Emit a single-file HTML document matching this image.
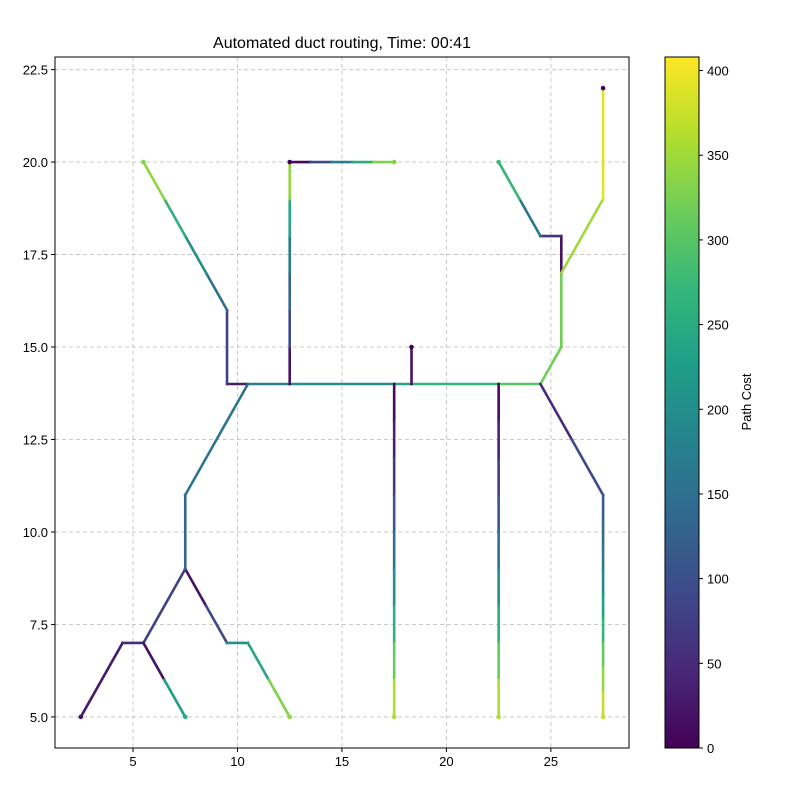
<!DOCTYPE html>
<html><head><meta charset="utf-8"><style>
body{margin:0;background:#fff;font-family:"Liberation Sans",sans-serif}
svg text{font-family:"Liberation Sans",sans-serif}
</style></head><body>
<svg id="c" width="787" height="787">
<defs><linearGradient id="vg" x1="0" y1="1" x2="0" y2="0"></linearGradient></defs>
<text x="342" y="48" font-size="16" text-anchor="middle">Automated duct routing, Time: 00:41</text>
<g id="grid"></g><g id="marks"></g><g id="axes"></g>
</svg>
<script>
const segments=[
[2.5,5,4.5,7,30],[4.5,7,5.5,7,50],[5.5,7,7.5,9,80],[5.5,7,6.5,6,20],[6.5,6,7.5,5,230],
[7.5,9,8.5,8,20],[8.5,8,9.5,7,90],[9.5,7,10.5,7,200],[10.5,7,11.5,6,240],[11.5,6,12.5,5,330],
[7.5,9,7.5,11,130],[7.5,11,10.5,14,160],[9.5,14,10.5,14,30],[9.5,14,9.5,16,80],
[9.5,16,8.5,17,150],[8.5,17,7.5,18,200],[7.5,18,6.5,19,260],[6.5,19,5.5,20,340],
[10.5,14,12.5,14,170],[12.5,14,17.5,14,200],[17.5,14,18.33,14,240],[18.33,14,22.5,14,265],[22.5,14,24.5,14,300],
[12.5,14,12.5,15,20],[12.5,15,12.5,16,90],[12.5,16,12.5,17,130],[12.5,17,12.5,18,170],[12.5,18,12.5,19,240],[12.5,19,12.5,20,340],
[12.5,20,13.5,20,10],[13.5,20,14.5,20,90],[14.5,20,15.5,20,170],[15.5,20,16.5,20,250],[16.5,20,17.5,20,330],
[18.33,14,18.33,15,20],
[24.5,14,25.5,15,320],[25.5,15,25.5,17,320],[25.5,17,25.5,18,20],[25.5,18,24.5,18,60],[24.5,18,23.5,19,160],[23.5,19,22.5,20,270],
[25.5,17,27.5,19,350],[27.5,19,27.5,22,390],[24.5,14,26,12.5,50],[26,12.5,27.5,11,90]
];
const dropCosts=[10,40,70,110,150,200,260,310,360];
const rightDropCosts=[120,140,160,190,230,270,310,340,370];
const dropXs=[17.5,22.5];
const xTicks=[5,10,15,20,25];
const yTicks=[5,7.5,10,12.5,15,17.5,20,22.5];
const cTicks=[0,50,100,150,200,250,300,350,400];
const dots=[[27.5,22,0],[18.33,15,0],[12.5,20,0],[5.5,20,330],[17.5,20,330],[22.5,20,280],[2.5,5,20],[7.5,5,250],[12.5,5,340],[17.5,5,360],[22.5,5,360],[27.5,5,370]];

const L=55,R=629,T=57,B=748,xmin=1.266,xmax=28.74,ymin=4.16,ymax=22.84,cmax=408;
const X=v=>L+(v-xmin)/(xmax-xmin)*(R-L), Y=v=>B-(v-ymin)/(ymax-ymin)*(B-T);
const VS=[[68,1,84],[72,40,120],[62,73,137],[49,104,142],[38,130,142],[31,158,137],[53,183,121],[109,205,89],[180,222,44],[253,231,37]];
function vir(c){let t=Math.max(0,Math.min(1,c/cmax))*(VS.length-1),i=Math.min(Math.floor(t),VS.length-2),f=t-i;
return 'rgb('+[0,1,2].map(k=>Math.round(VS[i][k]+(VS[i+1][k]-VS[i][k])*f)).join(',')+')';}
const NS='http://www.w3.org/2000/svg';
function mk(p,tag,a){const e=document.createElementNS(NS,tag);for(const k in a)e.setAttribute(k,a[k]);p.appendChild(e);return e;}
const grid=document.getElementById('grid'),marks=document.getElementById('marks'),axes=document.getElementById('axes');
xTicks.forEach(v=>{const g=mk(grid,'line',{x1:X(v),x2:X(v),y1:T,y2:B,stroke:'#c8c8c8','stroke-dasharray':'4,3'});


mk(axes,'line',{x1:X(v),x2:X(v),y1:B,y2:B+4,stroke:'#000'});
const t=mk(axes,'text',{x:X(v),y:B+18,'font-size':13,'text-anchor':'middle'});t.textContent=v;

});
yTicks.forEach(v=>{const g=mk(grid,'line',{x1:L,x2:R,y1:Y(v),y2:Y(v),stroke:'#c8c8c8','stroke-dasharray':'4,3'});


mk(axes,'line',{x1:L-4,x2:L,y1:Y(v),y2:Y(v),stroke:'#000'});
const t=mk(axes,'text',{x:L-7,y:Y(v)+5,'font-size':13,'text-anchor':'end'});t.textContent=v.toFixed(1);

});
const all=segments.slice();
dropXs.forEach(x=>dropCosts.forEach((c,i)=>all.push([x,14-i,x,13-i,c])));
rightDropCosts.forEach((c,i)=>{const y0=11-i*6/9;all.push([27.5,y0,27.5,y0-6/9,c]);});
all.forEach(s=>{const l=mk(marks,'line',{x1:X(s[0]),y1:Y(s[1]),x2:X(s[2]),y2:Y(s[3]),stroke:vir(s[4]),'stroke-width':2.6,'stroke-linecap':'square'});

});
dots.forEach(d=>{const c=mk(marks,'circle',{cx:X(d[0]),cy:Y(d[1]),r:2.3,fill:vir(d[2])});

});
const fr=mk(axes,'rect',{x:L,y:T,width:R-L,height:B-T,fill:'none',stroke:'#000'});


const g=document.getElementById('vg');
VS.forEach((c,i)=>mk(g,'stop',{offset:i/(VS.length-1),'stop-color':'rgb('+c.join(',')+')'}));
const cb=mk(axes,'rect',{x:665,y:T,width:34,height:B-T,fill:'url(#vg)',stroke:'#000'});


const CY=v=>B-v/cmax*(B-T);
cTicks.forEach(v=>{mk(axes,'line',{x1:699,x2:703,y1:CY(v),y2:CY(v),stroke:'#000'});
const t=mk(axes,'text',{x:707,y:CY(v)+5,'font-size':13});t.textContent=v;

});
const ct=mk(axes,'text',{x:751,y:402,'font-size':13,'text-anchor':'middle',transform:'rotate(-90 751 402)'});ct.textContent='Path Cost';


</script>
</body></html>
